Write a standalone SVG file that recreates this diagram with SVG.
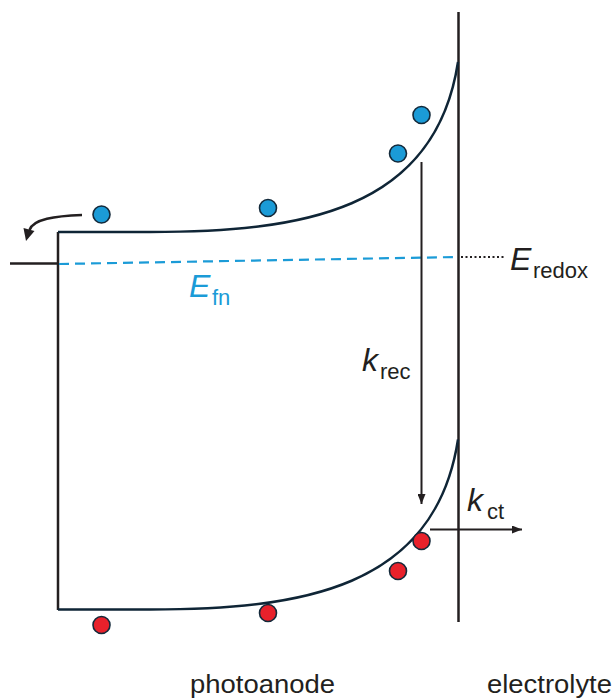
<svg xmlns="http://www.w3.org/2000/svg" width="615" height="698" viewBox="0 0 615 698">
<defs>
<style>
.band{fill:none;stroke:#0f2536;stroke-width:2.5}
.line{fill:none;stroke:#231f20;stroke-width:2.5}
.eb{fill:#1b9bd7;stroke:#13293a;stroke-width:1.6}
.hr{fill:#e8212b;stroke:#13293a;stroke-width:1.6}
.t{font-family:"Liberation Sans",Arial,sans-serif;fill:#231f20}
.big{font-size:32px;font-style:italic}
.sub{font-size:22px}
.lbl{font-size:25px}
</style>
<marker id="ah" viewBox="0 0 10 8" refX="10" refY="4" markerWidth="10" markerHeight="8" markerUnits="userSpaceOnUse" orient="auto">
<path d="M0,0 L10,4 L0,8 Z" fill="#231f20"/>
</marker>
</defs>
<rect width="615" height="698" fill="#fff"/>
<g id="electrolyte-interface"><line class="line" x1="458.5" y1="12" x2="458.5" y2="622"/></g>
<g id="photoanode-box">
<line class="line" x1="58" y1="232" x2="58" y2="610"/>
</g>
<g id="conduction-band"><path class="band" d="M58,232 L150,232 C300,232 435,212 458,62"/></g>
<g id="valence-band"><path class="band" d="M58,609.5 L150,609.5 C300,609.5 435,589.5 458,439.5"/></g>
<g id="fermi">
<line x1="10" y1="263.5" x2="58" y2="263.5" stroke="#231f20" stroke-width="2.5"/>
<line x1="59" y1="264" x2="458" y2="257" stroke="#1b9bd7" stroke-width="2.2" stroke-dasharray="10,6"/>
<line x1="461" y1="257" x2="505" y2="257" stroke="#231f20" stroke-width="2" stroke-dasharray="2,2.5"/>
</g>
<g id="electrons">
<circle class="eb" cx="101.5" cy="214.5" r="8.5"/>
<circle class="eb" cx="268" cy="208" r="8.5"/>
<circle class="eb" cx="398" cy="153.5" r="8.5"/>
<circle class="eb" cx="421.5" cy="115" r="8.5"/>
</g>
<g id="holes">
<circle class="hr" cx="101.5" cy="625" r="8.5"/>
<circle class="hr" cx="268" cy="613" r="8.5"/>
<circle class="hr" cx="398" cy="571" r="8.5"/>
<circle class="hr" cx="421.5" cy="541" r="8.5"/>
</g>
<g id="connectors">
<path d="M82,215 C55,216 33,219 29.5,230" fill="none" stroke="#231f20" stroke-width="2.5"/>
<polygon points="26,241 23.5,228 34.5,231" fill="#231f20"/>
<line x1="421.5" y1="162" x2="421.5" y2="504" stroke="#231f20" stroke-width="2" marker-end="url(#ah)"/>
<line x1="430" y1="529.5" x2="522" y2="529.5" stroke="#231f20" stroke-width="2" marker-end="url(#ah)"/>
</g>
<g id="labels">
<text class="t"><tspan class="big" x="510" y="270">E</tspan><tspan class="sub" x="533" y="278">redox</tspan></text>
<text class="t" style="fill:#1b9bd7"><tspan class="big" x="189" y="297">E</tspan><tspan class="sub" x="212" y="305">fn</tspan></text>
<text class="t"><tspan class="big" x="362" y="371">k</tspan><tspan class="sub" x="380" y="379">rec</tspan></text>
<text class="t"><tspan class="big" x="467" y="511">k</tspan><tspan class="sub" x="487" y="519">ct</tspan></text>
<text class="t lbl" x="190" y="693" textLength="145" lengthAdjust="spacingAndGlyphs">photoanode</text>
<text class="t lbl" x="487" y="693" textLength="125" lengthAdjust="spacingAndGlyphs">electrolyte</text>
</g>
</svg>
